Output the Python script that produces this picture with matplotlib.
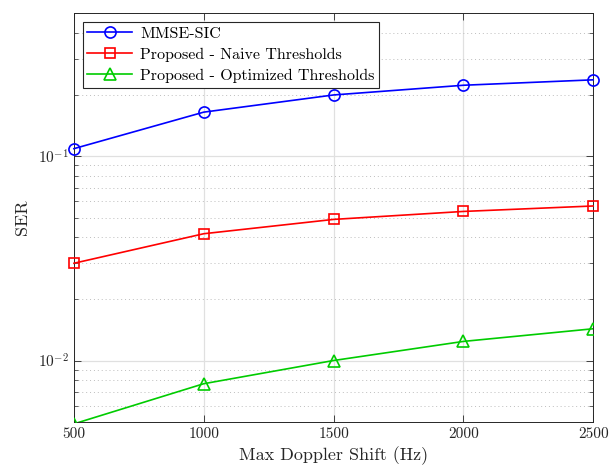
import matplotlib
matplotlib.use("Agg")
import matplotlib.pyplot as plt
from matplotlib.ticker import LogLocator, NullFormatter

plt.rcParams['font.family'] = 'serif'
plt.rcParams['font.serif'] = ['cmr10']
plt.rcParams['mathtext.fontset'] = 'cm'
plt.rcParams['axes.formatter.use_mathtext'] = True
plt.rcParams['axes.unicode_minus'] = False

doppler = [500, 1000, 1500, 2000, 2500]
mmse_sic = [0.1087, 0.164, 0.199, 0.222, 0.236]
naive = [0.0299, 0.0417, 0.049, 0.0536, 0.057]
optimized = [0.0049, 0.0077, 0.0100, 0.0124, 0.0143]
labels = ['MMSE-SIC', 'Proposed - Naive Thresholds', 'Proposed - Optimized Thresholds']
x_ticks = [500, 1000, 1500, 2000, 2500]

fig = plt.figure(figsize=(6.16, 4.70), dpi=100)
ax = fig.add_axes([0.120, 0.102, 0.843, 0.870])

ax.plot(doppler, mmse_sic, color='#0000ff', lw=1.2, marker='o', ms=8,
        mfc='none', mew=1.2, label=labels[0], clip_on=False, zorder=3)
ax.plot(doppler, naive, color='#ff0000', lw=1.2, marker='s', ms=7.5,
        mfc='none', mew=1.2, label=labels[1], clip_on=False, zorder=3)
ax.plot(doppler, optimized, color='#00cc00', lw=1.2, marker='^', ms=8.5,
        mfc='none', mew=1.2, label=labels[2], zorder=3)

ax.set_yscale('log')
ax.set_xlim(500, 2500)
ax.set_ylim(0.005, 0.5)
ax.set_xticks(x_ticks)
ax.set_xticklabels([str(v) for v in x_ticks])
ax.yaxis.set_major_locator(LogLocator(base=10, numticks=10))
ax.yaxis.set_minor_locator(LogLocator(base=10, subs=range(2, 10), numticks=20))
ax.yaxis.set_minor_formatter(NullFormatter())

ax.grid(True, which='major', color='#e0e0e0', lw=0.9, ls='-')
ax.grid(True, which='minor', axis='y', color='#bdbdbd', lw=0.7, ls=(0, (1, 3)))
ax.set_axisbelow(True)

ax.tick_params(which='both', direction='in', top=True, right=True,
               colors='#262626', labelcolor='#262626', labelsize=11)
ax.tick_params(which='major', length=5, width=0.6)
ax.tick_params(which='minor', length=3, width=0.5)
for s in ax.spines.values():
    s.set_color('#262626')
    s.set_linewidth(0.7)

ax.set_xlabel('Max Doppler Shift (Hz)', fontsize=13, color='#262626', labelpad=4)
ax.set_ylabel('SER', fontsize=13, color='#262626', labelpad=6)

leg = ax.legend(loc='upper left', fontsize=11.5, frameon=True, fancybox=False,
                edgecolor='#262626', framealpha=1, borderaxespad=0.55,
                handlelength=2.8, labelspacing=0.42, borderpad=0.3,
                handletextpad=0.5)
leg.get_frame().set_linewidth(0.8)

fig.savefig('out.png', dpi=100)
